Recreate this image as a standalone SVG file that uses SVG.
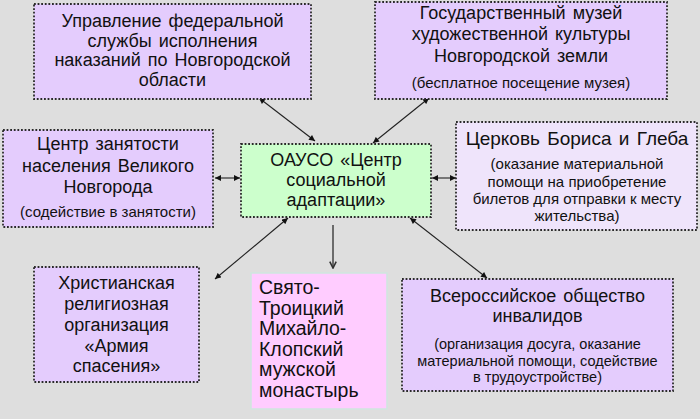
<svg xmlns="http://www.w3.org/2000/svg" width="700" height="419" viewBox="0 0 700 419">
<defs>
<style>
.bg{fill:#dedede}
.box{stroke:#2a2a2a;stroke-width:1.8;stroke-dasharray:1.8 1.8}
.lil{fill:#e4ccfd}
.lil2{fill:#efe4fb}
.grn{fill:#ccffcc}
.pnk{fill:#ffccff;stroke:#cfe6df;stroke-width:1.5}
text{font-family:"Liberation Sans",Arial,sans-serif;fill:#111}
.t{font-size:18px;text-anchor:middle;word-spacing:2px}
.s{font-size:15px;text-anchor:middle}
.s2{font-size:14.5px;text-anchor:middle}
.p{font-size:19.5px}
.c{stroke:#222;stroke-width:1.1;fill:none}
</style>
<marker id="ah" viewBox="0 0 10 10" refX="10" refY="5" markerWidth="7" markerHeight="6" markerUnits="userSpaceOnUse" orient="auto-start-reverse">
<path d="M0,0 L10,5 L0,10 z" fill="#111"/>
</marker>
<marker id="av" viewBox="0 0 10 10" refX="9" refY="5" markerWidth="8" markerHeight="8" markerUnits="userSpaceOnUse" orient="auto">
<path d="M1,1 L9,5 L1,9" fill="none" stroke="#333" stroke-width="2"/>
</marker>
</defs>
<rect class="bg" x="0" y="0" width="700" height="419"/>

<g id="connectors">
<line class="c" x1="259" y1="98" x2="315" y2="141" marker-start="url(#ah)" marker-end="url(#ah)"/>
<line class="c" x1="429" y1="98" x2="373" y2="143" marker-start="url(#ah)" marker-end="url(#ah)"/>
<line class="c" x1="215" y1="178" x2="240" y2="178" marker-start="url(#ah)" marker-end="url(#ah)"/>
<line class="c" x1="432" y1="178" x2="456" y2="178" marker-start="url(#ah)" marker-end="url(#ah)"/>
<line class="c" x1="288" y1="218" x2="215" y2="279" marker-start="url(#ah)" marker-end="url(#ah)"/>
<line class="c" x1="410" y1="218" x2="487" y2="278" marker-start="url(#ah)" marker-end="url(#ah)"/>
<line x1="333" y1="225" x2="333" y2="268" stroke="#444" stroke-width="1.5" marker-end="url(#av)"/>
</g>

<g id="node-fsin">
<rect class="box lil" x="34" y="4" width="277" height="95"/>
<text class="t" x="172.5" y="27">Управление федеральной</text>
<text class="t" x="172.5" y="46.5">службы исполнения</text>
<text class="t" x="172.5" y="66">наказаний по Новгородской</text>
<text class="t" x="172.5" y="85.5">области</text>
</g>

<g id="node-museum">
<rect class="box lil" x="375" y="2" width="292" height="97"/>
<text class="t" x="521" y="19">Государственный музей</text>
<text class="t" x="521" y="40">художественной культуры</text>
<text class="t" x="521" y="61.5">Новгородской земли</text>
<text class="s" x="521" y="88">(бесплатное посещение музея)</text>
</g>

<g id="node-employment">
<rect class="box lil" x="3" y="130" width="210" height="97"/>
<text class="t" x="108" y="150">Центр занятости</text>
<text class="t" x="108" y="171.5">населения Великого</text>
<text class="t" x="108" y="192.5">Новгорода</text>
<text class="s" x="108" y="217">(содействие в занятости)</text>
</g>

<g id="node-center">
<rect class="box grn" x="241" y="144" width="190" height="73"/>
<text class="t" x="336" y="166">ОАУСО «Центр</text>
<text class="t" x="336" y="186">социальной</text>
<text class="t" x="336" y="206">адаптации»</text>
</g>

<g id="node-church">
<rect class="box lil2" x="456" y="122" width="241" height="108"/>
<text class="t" x="577" y="145" style="font-size:19px">Церковь Бориса и Глеба</text>
<text class="s" x="577" y="169">(оказание материальной</text>
<text class="s" x="577" y="186.5">помощи на приобретение</text>
<text class="s" x="577" y="204">билетов для отправки к месту</text>
<text class="s" x="577" y="221">жительства)</text>
</g>

<g id="node-army">
<rect class="box lil" x="34" y="267" width="165" height="115"/>
<text class="t" x="116.5" y="289">Христианская</text>
<text class="t" x="116.5" y="310">религиозная</text>
<text class="t" x="116.5" y="331">организация</text>
<text class="t" x="116.5" y="352">«Армия</text>
<text class="t" x="116.5" y="372">спасения»</text>
</g>

<g id="node-monastery">
<rect class="pnk" x="251" y="273" width="136" height="136"/>
<text class="p" x="259" y="294">Свято-</text>
<text class="p" x="259" y="314.5">Троицкий</text>
<text class="p" x="259" y="335">Михайло-</text>
<text class="p" x="259" y="355.5">Клопский</text>
<text class="p" x="259" y="376">мужской</text>
<text class="p" x="259" y="396.5">монастырь</text>
</g>

<g id="node-voi">
<rect class="box lil" x="402" y="279" width="271" height="112"/>
<text class="t" x="537.5" y="302">Всероссийское общество</text>
<text class="t" x="537.5" y="322">инвалидов</text>
<text class="s2" x="537.5" y="349">(организация досуга, оказание</text>
<text class="s2" x="537.5" y="365.5">материальной помощи, содействие</text>
<text class="s2" x="537.5" y="382">в трудоустройстве)</text>
</g>
</svg>
